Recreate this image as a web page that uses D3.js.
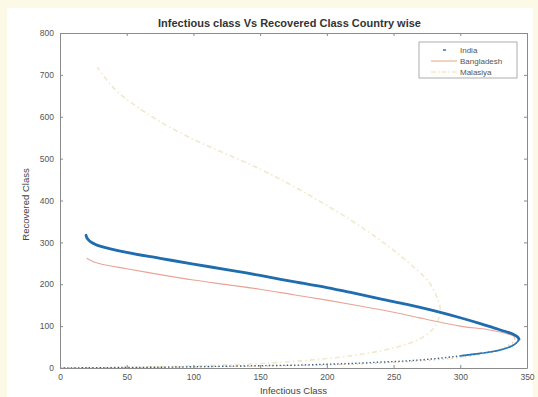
<!DOCTYPE html>
<html>
<head>
<meta charset="utf-8">
<script src="https://cdn.jsdelivr.net/npm/d3@7"></script>
<style>
  html, body { margin: 0; padding: 0; background: #fdf9e7; }
  svg { display: block; }
  text { font-family: "Liberation Sans", Arial, sans-serif; }
</style>
</head>
<body>
<svg id="chart" width="538" height="397"></svg>
<script>
// Infectious (I) vs recovered (R) trajectories per country, as [I, R] pairs.
const countries = ["India", "Bangladesh", "Malasiya"];

// India: growth phase (I rising, R small) and decline phase (I falling, R rising)
const indiaRise = [
  [0, 0], [5, 0.2], [20, 0.5], [40, 1], [60, 1.5], [80, 2], [100, 3], [120, 4],
  [140, 5], [160, 6], [180, 7], [200, 9], [220, 11], [240, 14], [260, 17],
  [280, 22], [300, 29], [315, 35], [330, 43], [340, 55], [343, 63], [344, 69]
];
const indiaFall = [
  [344, 69], [343, 74], [340, 80], [335, 86], [325, 96], [315, 106], [300, 120],
  [280, 137], [260, 152], [240, 165], [217, 181], [200, 192], [175, 206],
  [150, 221], [127, 234], [100, 248], [75, 262], [50, 276], [30, 291],
  [26, 296], [23, 301], [21, 307], [20, 312], [19.5, 317]
];

const bangladeshRise = [
  [0, 0], [20, 0.4], [60, 1.2], [100, 2.5], [140, 4], [180, 6], [220, 9],
  [260, 15], [290, 22], [310, 30], [325, 40], [335, 52], [340, 63], [341, 70]
];
const bangladeshFall = [
  [341, 70], [340, 76], [335, 82], [330, 86], [320, 92], [300, 100], [275, 116],
  [250, 133], [225, 148], [200, 162], [175, 175], [150, 188], [125, 199],
  [100, 210], [75, 223], [50, 237], [30, 249], [25, 254], [20, 262]
];

const malaysiaRise = [
  [0, 0], [20, 0.5], [60, 2], [100, 5], [140, 9], [180, 17], [220, 30],
  [250, 48], [270, 70], [280, 95], [284, 120], [285, 140]
];
const malaysiaFall = [
  [285, 140], [283, 165], [277, 203], [260, 255], [240, 305], [217, 355],
  [180, 425], [150, 475], [118, 520], [100, 546], [75, 588],
  [55, 630], [43, 660], [35, 688], [28, 718]
];

const xTicks = [0, 50, 100, 150, 200, 250, 300, 350];
const yTicks = [0, 100, 200, 300, 400, 500, 600, 700, 800];

const svg = d3.select("#chart");

// white figure area on the cream page
svg.append("rect").attr("x", 7).attr("y", 8).attr("width", 526).attr("height", 389)
  .attr("fill", "#ffffff");

const mLeft = 60, mRight = 527, mTop = 33, mBottom = 368;
const x = d3.scaleLinear().domain([0, 350]).range([mLeft, mRight]);
const y = d3.scaleLinear().domain([0, 800]).range([mBottom, mTop]);

const linePlain = d3.line().x(d => x(d[0])).y(d => y(d[1])).curve(d3.curveCatmullRom);

const plot = svg.append("g");

// Malaysia (faint dash-dot)
plot.append("path").datum(malaysiaRise.concat(malaysiaFall.slice(1)))
  .attr("d", linePlain).attr("fill", "none")
  .attr("stroke", "#f0e9cb").attr("stroke-width", 1.6)
  .attr("stroke-dasharray", "5,3,1.5,3");

// Bangladesh (thin light orange)
plot.append("path").datum(bangladeshRise)
  .attr("d", linePlain).attr("fill", "none")
  .attr("stroke", "#e9c7a0").attr("stroke-width", 1.2)
  .attr("stroke-dasharray", "1.5,3");
plot.append("path").datum(bangladeshFall)
  .attr("d", linePlain).attr("fill", "none")
  .attr("stroke", "#e8a596").attr("stroke-width", 1.1);

// India: sparse dotted rise, dense thick decline
plot.append("path").datum(indiaRise)
  .attr("d", linePlain).attr("fill", "none")
  .attr("stroke", "#3b5f80").attr("stroke-width", 1.4)
  .attr("stroke-dasharray", "1.4,2.2");
plot.append("path").datum(indiaRise.slice(-6))
  .attr("d", linePlain).attr("fill", "none")
  .attr("stroke", "#2a78b8").attr("stroke-width", 1.6);
plot.append("path").datum(indiaFall)
  .attr("d", linePlain).attr("fill", "none")
  .attr("stroke", "#1f6cae").attr("stroke-width", 2.8)
  .attr("stroke-linecap", "round");

// axes box
const axisColor = "#8a8a8a";
const xAxis = d3.axisBottom(x).tickValues(xTicks).tickSizeInner(-3).tickSizeOuter(0).tickPadding(6);
const yAxis = d3.axisLeft(y).tickValues(yTicks).tickSizeInner(-3).tickSizeOuter(0).tickPadding(6);
const xTop = d3.axisTop(x).tickValues(xTicks).tickSizeInner(-3).tickSizeOuter(0).tickFormat("");
const yRight = d3.axisRight(y).tickValues(yTicks).tickSizeInner(-3).tickSizeOuter(0).tickFormat("");

function style(g) {
  g.select(".domain").attr("stroke", axisColor).attr("stroke-width", 1);
  g.selectAll(".tick line").attr("stroke", axisColor);
  g.selectAll(".tick text").attr("fill", "#555").attr("font-size", 8.5)
    .attr("font-family", "Liberation Sans, Arial, sans-serif");
}
svg.append("g").attr("transform", `translate(0,${mBottom})`).call(xAxis).call(style);
svg.append("g").attr("transform", `translate(${mLeft},0)`).call(yAxis).call(style);
svg.append("g").attr("transform", `translate(0,${mTop})`).call(xTop).call(style);
svg.append("g").attr("transform", `translate(${mRight},0)`).call(yRight).call(style);

// title and axis labels
svg.append("text").attr("x", (mLeft + mRight) / 2 - 4).attr("y", 27)
  .attr("text-anchor", "middle").attr("font-size", 11).attr("font-weight", "bold")
  .attr("fill", "#333").text("Infectious class Vs Recovered Class Country wise");
svg.append("text").attr("x", (mLeft + mRight) / 2).attr("y", 394)
  .attr("text-anchor", "middle").attr("font-size", 9.5).attr("fill", "#444")
  .text("Infectious Class");
svg.append("text").attr("transform", `translate(29,${(mTop + mBottom) / 2 + 4}) rotate(-90)`)
  .attr("text-anchor", "middle").attr("font-size", 9.5).attr("fill", "#444")
  .text("Recovered Class");

// legend
const lg = svg.append("g").attr("transform", "translate(419,42)");
lg.append("rect").attr("width", 98).attr("height", 36)
  .attr("fill", "#fff").attr("stroke", "#9a9a9a").attr("stroke-width", 0.8);
const legendStyles = [
  { stroke: "#2a78b8", width: 1.5, dash: null, x1: 24, x2: 27 },
  { stroke: "#e8b08a", width: 1.1, dash: null, x1: 12, x2: 38 },
  { stroke: "#e9dfb0", width: 1.2, dash: "5,2,1.5,2", x1: 12, x2: 38 }
];
countries.forEach((name, i) => {
  const yy = 8 + i * 11;
  const s = legendStyles[i];
  lg.append("line").attr("x1", s.x1).attr("x2", s.x2).attr("y1", yy).attr("y2", yy)
    .attr("stroke", s.stroke).attr("stroke-width", s.width)
    .attr("stroke-dasharray", s.dash);
  lg.append("text").attr("x", 41).attr("y", yy + 3).attr("font-size", 8)
    .attr("fill", "#555").text(name);
});
</script>
</body>
</html>
